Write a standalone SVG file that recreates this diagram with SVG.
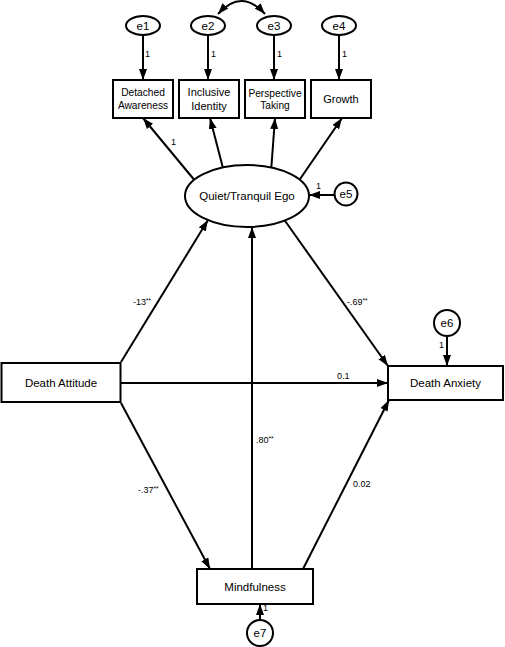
<svg xmlns="http://www.w3.org/2000/svg" width="505" height="647" viewBox="0 0 505 647">
<defs>
<marker id="arr" viewBox="0 0 11 8" refX="11" refY="4" markerWidth="11" markerHeight="8" markerUnits="userSpaceOnUse" orient="auto-start-reverse">
<path d="M0,0 L11,4 L0,8 z" fill="#000"/>
</marker>
<style>
.ln{stroke:#000;stroke-width:2;fill:none}
.ar{stroke:#000;stroke-width:2;fill:none;marker-end:url(#arr)}
.nd{fill:#fff;stroke:#000;stroke-width:2}
text{font-family:"Liberation Sans",Arial,sans-serif;fill:#000}
.t{font-size:11.5px;text-anchor:middle}
.s{font-size:10.2px;text-anchor:middle}
.e{font-size:11.5px;text-anchor:middle}
.l{font-size:9px}
.st{font-size:6.5px}
</style>
</defs>
<rect width="505" height="647" fill="#fff"/>
<g id="connectors">
<line class="ar" x1="143" y1="35" x2="143" y2="80"/>
<line class="ar" x1="208" y1="35" x2="208" y2="80"/>
<line class="ar" x1="274" y1="35" x2="274" y2="80"/>
<line class="ar" x1="339" y1="35" x2="339" y2="80"/>
<path class="ln" d="M218,14 Q241.5,-12 265,14" style="marker-start:url(#arr);marker-end:url(#arr)"/>
<line class="ar" x1="196" y1="182" x2="143" y2="118"/>
<line class="ar" x1="224" y1="172" x2="210" y2="118"/>
<line class="ar" x1="271" y1="172" x2="275" y2="118"/>
<line class="ar" x1="298" y1="182" x2="342" y2="118"/>
<line class="ar" x1="335" y1="195" x2="309" y2="195"/>
<line class="ar" x1="121" y1="362" x2="208" y2="220"/>
<line class="ar" x1="283" y1="218" x2="388" y2="366"/>
<line class="ar" x1="120" y1="383" x2="388" y2="383"/>
<line class="ar" x1="252" y1="569" x2="252" y2="227"/>
<line class="ar" x1="121" y1="403" x2="210" y2="569"/>
<line class="ar" x1="303" y1="569" x2="389" y2="400"/>
<line class="ar" x1="447" y1="336" x2="447" y2="366"/>
<line class="ar" x1="260" y1="620" x2="260" y2="604"/>
</g>
<g id="labels">
<text class="l" x="145" y="57">1</text>
<text class="l" x="211" y="57">1</text>
<text class="l" x="277" y="57">1</text>
<text class="l" x="342" y="57">1</text>
<text class="l" x="171" y="145">1</text>
<text class="l" x="316" y="189">1</text>
<text class="l" x="133" y="305">-13<tspan class="st" dy="-2">**</tspan></text>
<text class="l" x="347" y="305">-.69<tspan class="st" dy="-2">**</tspan></text>
<text class="l" x="337" y="379">0.1</text>
<text class="l" x="439" y="348">1</text>
<text class="l" x="256" y="443">.80<tspan class="st" dy="-2">**</tspan></text>
<text class="l" x="138" y="493">-.37<tspan class="st" dy="-2">**</tspan></text>
<text class="l" x="353" y="487">0.02</text>
<text class="l" x="263" y="611">1</text>
</g>
<g id="e1"><ellipse class="nd" cx="143" cy="25.5" rx="17" ry="9.5"/><text class="e" x="143" y="29.5">e1</text></g>
<g id="e2"><ellipse class="nd" cx="208" cy="25.5" rx="17" ry="9.5"/><text class="e" x="208" y="29.5">e2</text></g>
<g id="e3"><ellipse class="nd" cx="274" cy="25.5" rx="17" ry="9.5"/><text class="e" x="274" y="29.5">e3</text></g>
<g id="e4"><ellipse class="nd" cx="339" cy="25.5" rx="17" ry="9.5"/><text class="e" x="339" y="29.5">e4</text></g>
<g id="detached"><rect class="nd" x="113" y="80" width="60" height="38"/><text class="s" x="143" y="96">Detached</text><text class="s" x="143" y="109">Awareness</text></g>
<g id="inclusive"><rect class="nd" x="179" y="80" width="60" height="38"/><text class="t" x="209" y="96" style="font-size:11px">Inclusive</text><text class="t" x="209" y="110" style="font-size:11px">Identity</text></g>
<g id="perspective"><rect class="nd" x="245" y="80" width="60" height="38"/><text class="s" x="275" y="97">Perspective</text><text class="s" x="275" y="109">Taking</text></g>
<g id="growth"><rect class="nd" x="311" y="80" width="60" height="38"/><text class="t" x="341" y="103" style="font-size:11px">Growth</text></g>
<g id="ego"><ellipse class="nd" cx="247" cy="196" rx="62" ry="31"/><text class="t" x="247" y="200">Quiet/Tranquil Ego</text></g>
<g id="e5"><circle class="nd" cx="346" cy="194" r="11.5"/><text class="e" x="346" y="198">e5</text></g>
<g id="deathAttitude"><rect class="nd" x="1.5" y="363" width="119" height="39"/><text class="t" x="61" y="387">Death Attitude</text></g>
<g id="deathAnxiety"><rect class="nd" x="388" y="366" width="115" height="34"/><text class="t" x="445.5" y="387">Death Anxiety</text></g>
<g id="e6"><circle class="nd" cx="447" cy="323" r="13"/><text class="e" x="447" y="327">e6</text></g>
<g id="mindfulness"><rect class="nd" x="197" y="569" width="116" height="35"/><text class="t" x="255" y="591">Mindfulness</text></g>
<g id="e7"><circle class="nd" cx="260" cy="633" r="13"/><text class="e" x="260" y="637">e7</text></g>
</svg>
